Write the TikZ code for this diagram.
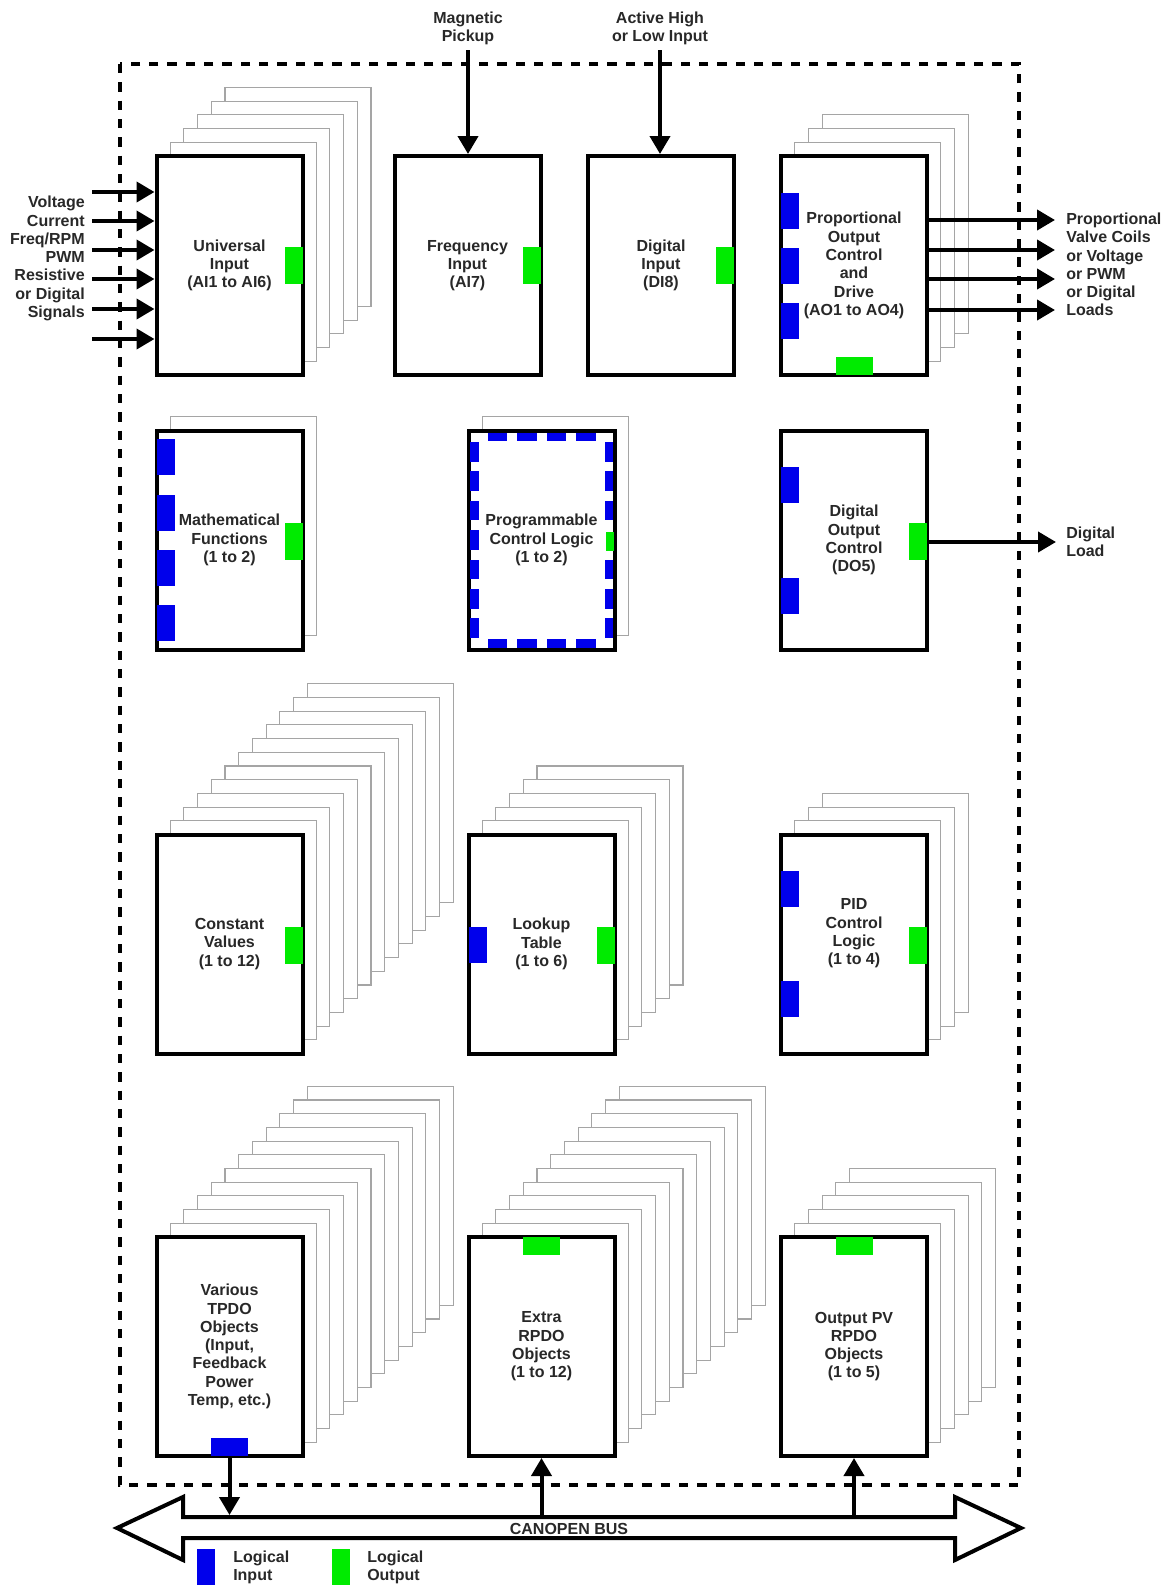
\documentclass[tikz,border=0pt]{standalone}
\usepackage{fontspec}
\setmainfont{Liberation Sans}
\usetikzlibrary{arrows.meta,calc}
\definecolor{pgreen}{RGB}{0,235,0}
\definecolor{pblue}{RGB}{0,0,235}
\definecolor{txt}{RGB}{40,40,40}
\definecolor{layergray}{RGB}{165,165,165}
\tikzset{
  lbl/.style={font=\fontsize{12}{13.7}\selectfont\bfseries, text=txt, align=center, inner sep=0pt},
  box/.style={draw=black, line width=3pt, fill=white, minimum width=109.5pt, minimum height=164.25pt, inner sep=0pt, lbl},
  sheet/.style={draw=layergray, line width=0.8pt, fill=white},
  inport/.style={fill=pblue, draw=none},
  outport/.style={fill=pgreen, draw=none},
  arr/.style={line width=3pt, -{Triangle[length=13.5pt,width=15pt]}},
  frame/.style={line width=3pt, dash pattern=on 7pt off 6.75pt},
}
\newcommand{\sheets}[3]{%
  \foreach \k in {#3,...,1}{%
    \draw[sheet] ({#1-73+13.7*\k},{#2-109.5-13.7*\k}) rectangle ({#1+73+13.7*\k},{#2+109.5-13.7*\k});
  }}
% right-side port: center, dy, style
\newcommand{\rport}[3]{\fill[#3] ($(#1)+(55,#2-18.5)$) rectangle ++(18,37);}
\newcommand{\lport}[3]{\fill[#3] ($(#1)+(-73,#2-18)$) rectangle ++(18,36);}
\begin{document}
\begin{tikzpicture}[x=0.75pt,y=-0.75pt]
\useasboundingbox (0,0) rectangle (1168,1585);

% ---------- stacked sheets ----------
\sheets{229.5}{265.5}{5}
\sheets{854}{265.5}{3}
\sheets{229.5}{540}{1}
\sheets{541.5}{540}{1}
\sheets{229.5}{944}{11}
\sheets{541.5}{944}{5}
\sheets{854}{944}{3}
\sheets{229.5}{1346.5}{11}
\sheets{541.5}{1346.5}{11}
\sheets{854}{1346.5}{5}

% ---------- main boxes ----------
\node[box] (univ)  at (229.5,265.5) {Universal\\Input\\(AI1 to AI6)};
\node[box] (freq)  at (467.5,265.5) {Frequency\\Input\\(AI7)};
\node[box] (dig)   at (661,265.5)   {Digital\\Input\\(DI8)};
\node[box] (prop)  at (854,265.5)   {Proportional\\Output\\Control\\and\\Drive\\(AO1 to AO4)};
\node[box] (math)  at (229.5,540)   {Mathematical\\Functions\\(1 to 2)};
\node[box] (pcl)   at (541.5,540)   {Programmable\\Control Logic\\(1 to 2)};
\node[box] (dout)  at (854,540)     {Digital\\Output\\Control\\(DO5)};
\node[box] (const) at (229.5,944)   {Constant\\Values\\(1 to 12)};
\node[box] (lut)   at (541.5,944)   {Lookup\\Table\\(1 to 6)};
\node[box] (pid)   at (854,944)     {};
\node[lbl] (pidtext) at (854,933.5) {PID\\Control\\Logic\\(1 to 4)};
\node[box] (tpdo)  at (229.5,1346.5) {Various\\TPDO\\Objects\\(Input,\\Feedback\\Power\\Temp, etc.)};
\node[box] (rpdo)  at (541.5,1346.5) {Extra\\RPDO\\Objects\\(1 to 12)};
\node[box] (opv)   at (854,1346.5)   {Output PV\\RPDO\\Objects\\(1 to 5)};

% ---------- ports ----------
\rport{univ.center}{0}{outport}
\rport{freq.center}{0}{outport}
\rport{dig.center}{0}{outport}
\lport{prop.center}{-55}{inport}
\lport{prop.center}{0}{inport}
\lport{prop.center}{55}{inport}
\fill[outport] ($(prop.center)+(-18.5,91.5)$) rectangle ++(37,18);
\lport{math.center}{-83}{inport}
\lport{math.center}{-27.5}{inport}
\lport{math.center}{28}{inport}
\lport{math.center}{83}{inport}
\rport{math.center}{1}{outport}
\lport{dout.center}{-55}{inport}
\lport{dout.center}{55.5}{inport}
\rport{dout.center}{1}{outport}
\rport{const.center}{1}{outport}
\lport{lut.center}{1}{inport}
\rport{lut.center}{1}{outport}
\lport{pid.center}{-55.5}{inport}
\lport{pid.center}{55}{inport}
\rport{pid.center}{1}{outport}
\fill[inport] ($(tpdo.center)+(-18.5,91.5)$) rectangle ++(37,18);
\fill[outport] ($(rpdo.center)+(-18.5,-109.5)$) rectangle ++(37,18);
\fill[outport] ($(opv.center)+(-18.5,-109.5)$) rectangle ++(37,18);
% programmable logic: blue dashed inner frame
\foreach \d in {-44.25,-14.75,14.75,44.25}{
  \fill[inport] ($(pcl.center)+(\d-9.75,-107.5)$) rectangle ++(19.5,8.5);
  \fill[inport] ($(pcl.center)+(\d-9.75,99)$) rectangle ++(19.5,8.5);
}
\foreach \d in {-88.2,-58.8,-29.4,0,29.4,58.8,88.2}{
  \fill[inport] ($(pcl.center)+(-71.5,\d-9.75)$) rectangle ++(8.5,19.5);
}
\foreach \d in {-88.2,-58.8,-29.4,29.4,58.8,88.2}{
  \fill[inport] ($(pcl.center)+(63,\d-9.75)$) rectangle ++(8.5,19.5);
}
\fill[outport] ($(pcl.center)+(64,-8.5)$) rectangle ++(8,19);

% ---------- module frame ----------
\draw[frame] (120,64) rectangle (1019,1485);

% ---------- external labels ----------
\node[lbl] (magn) at (468,28.5) {Magnetic\\Pickup};
\node[lbl] (actv) at (660,28.5) {Active High\\or Low Input};
\node[lbl, align=right, anchor=east] (inlbl) at (85,258.5) {Voltage\\Current\\Freq/RPM\\PWM\\Resistive\\or Digital\\Signals};
\node[lbl, align=left, anchor=west] (outlbl) at (1066,264.5) {Proportional\\Valve Coils\\or Voltage\\or PWM\\or Digital\\Loads};
\node[lbl, align=left, anchor=west] (dlbl) at (1066,541.5) {Digital\\Load};

% ---------- free ends ----------
\coordinate (magc) at (468,50);
\coordinate (actc) at (660,50);
\foreach \i/\y in {1/192,2/221,3/250,4/279,5/309,6/339}{
  \coordinate (in\i) at (92,\y);
}
\foreach \i/\y in {1/220,2/250,3/279,4/310}{
  \coordinate (po\i) at (1055,\y);
}
\coordinate (dl) at (1056,542);
\coordinate (busT) at (229.5,1515);
\coordinate (busR) at (541.5,1515);
\coordinate (busO) at (854,1515);

% ---------- connectors ----------
\foreach \i in {1,...,6}{ \draw[arr] (in\i) -- (in\i -| univ.west); }
\draw[arr] (magc) -- (magc |- freq.north);
\draw[arr] (actc) -- (actc |- dig.north);
\foreach \i in {1,...,4}{ \draw[arr] (po\i -| prop.east) -- (po\i); }
\draw[arr] (dl -| dout.east) -- (dl);
\draw[arr] (busT |- tpdo.south) -- (busT);
\draw[arr] (busR) -- (busR |- rpdo.south);
\draw[arr] (busO) -- (busO |- opv.south);

% ---------- CANopen bus ----------
\draw[line width=3pt, fill=white, line join=miter]
  (117,1528) -- (183,1497) -- (183,1517) -- (955,1517) -- (955,1497) -- (1021,1528)
  -- (955,1560) -- (955,1538) -- (183,1538) -- (183,1560) -- cycle;
\node[lbl] (bus) at (569,1529) {CANOPEN BUS};

% ---------- legend ----------
\node[fill=pblue, inner sep=0pt, minimum width=13.5pt, minimum height=27pt, anchor=north west] (legin) at (197,1549) {};
\node[lbl, align=left, anchor=west] (legintext) at (233,1567) {Logical\\Input};
\node[fill=pgreen, inner sep=0pt, minimum width=13.5pt, minimum height=27pt, anchor=north west] (legout) at (332,1549) {};
\node[lbl, align=left, anchor=west] (legouttext) at (367,1567) {Logical\\Output};
\end{tikzpicture}
\end{document}
